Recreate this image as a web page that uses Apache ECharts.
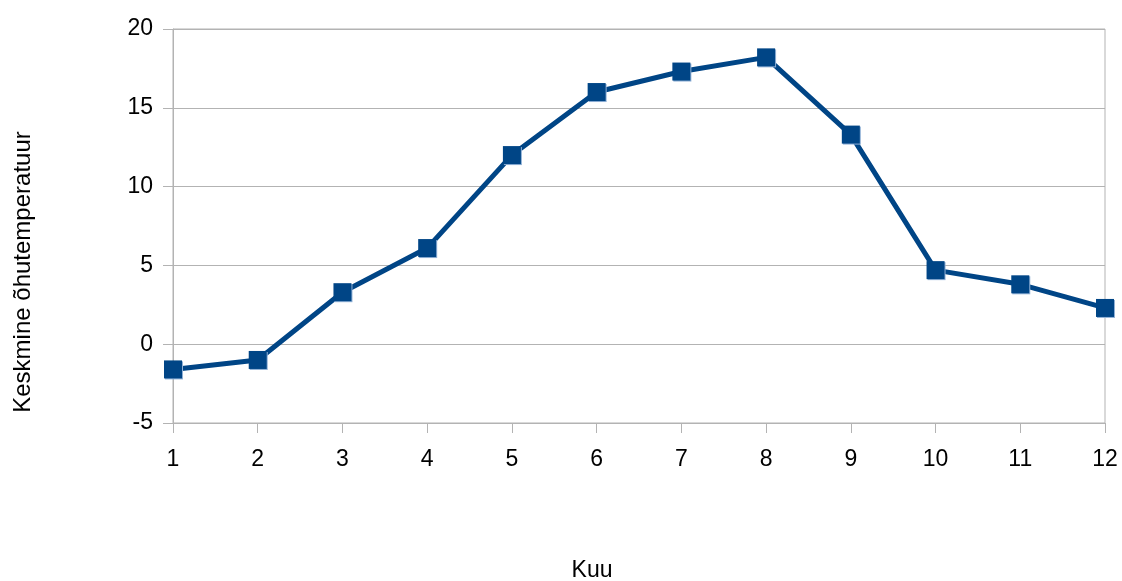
<!DOCTYPE html>
<html>
<head>
<meta charset="utf-8">
<script src="https://cdn.jsdelivr.net/npm/echarts@6/dist/echarts.min.js"></script>
<style>
  html, body { margin: 0; padding: 0; background: #ffffff; }
  #chart { width: 1122px; height: 581px; }
</style>
</head>
<body>
<div id="chart"></div>
<script>
// Monthly mean air temperature
const months = ['1', '2', '3', '4', '5', '6', '7', '8', '9', '10', '11', '12'];
const temperatures = [-1.6, -1.0, 3.3, 6.1, 12.0, 16.0, 17.3, 18.2, 13.3, 4.7, 3.8, 2.3];
const yAxisTitle = 'Keskmine õhutemperatuur';
const xAxisTitle = 'Kuu';

const gridColor = '#b3b3b3';
const seriesColor = '#004586';
const fontFamily = '"Liberation Sans", Arial, sans-serif';

const chart = echarts.init(document.getElementById('chart'), null, { renderer: 'canvas' });

chart.setOption({
  animation: false,
  backgroundColor: '#ffffff',
  grid: {
    left: 173,
    right: 17,
    top: 29,
    bottom: 158,
    outerBoundsMode: 'none',
    containLabel: false,
    show: true,
    borderColor: gridColor,
    borderWidth: 1
  },
  xAxis: {
    type: 'category',
    data: months,
    boundaryGap: false,
    name: xAxisTitle,
    nameLocation: 'middle',
    nameGap: 136,
    // titles sit centred on the whole page rather than on the plot area
    nameTextStyle: { color: '#000000', fontSize: 23, fontFamily: fontFamily, padding: [0, 94, 0, 0] },
    axisLine: { onZero: false, lineStyle: { color: gridColor, width: 1 } },
    axisTick: { show: true, length: 10, alignWithLabel: true, lineStyle: { color: gridColor } },
    axisLabel: { color: '#000000', fontSize: 23, fontFamily: fontFamily, margin: 25 },
    splitLine: { show: false }
  },
  yAxis: {
    type: 'value',
    min: -5,
    max: 20,
    interval: 5,
    name: yAxisTitle,
    nameLocation: 'middle',
    nameGap: 138,
    nameRotate: 90,
    nameTextStyle: { color: '#000000', fontSize: 24, fontFamily: fontFamily, padding: [0, 92, 0, 0] },
    axisLine: { show: true, lineStyle: { color: gridColor, width: 1 } },
    axisTick: { show: true, length: 10, lineStyle: { color: gridColor } },
    axisLabel: { color: '#000000', fontSize: 23, fontFamily: fontFamily, margin: 20 },
    splitLine: { show: true, lineStyle: { color: gridColor, width: 1 } }
  },
  series: [{
    type: 'line',
    data: temperatures,
    symbol: 'rect',
    symbolSize: 18,
    showAllSymbol: true,
    lineStyle: { color: seriesColor, width: 5 },
    itemStyle: {
      color: seriesColor,
      shadowColor: '#8fb0d6',
      shadowOffsetX: 1,
      shadowOffsetY: 1,
      shadowBlur: 0
    },
    emphasis: { disabled: true },
    z: 3
  }]
});
</script>
</body>
</html>
